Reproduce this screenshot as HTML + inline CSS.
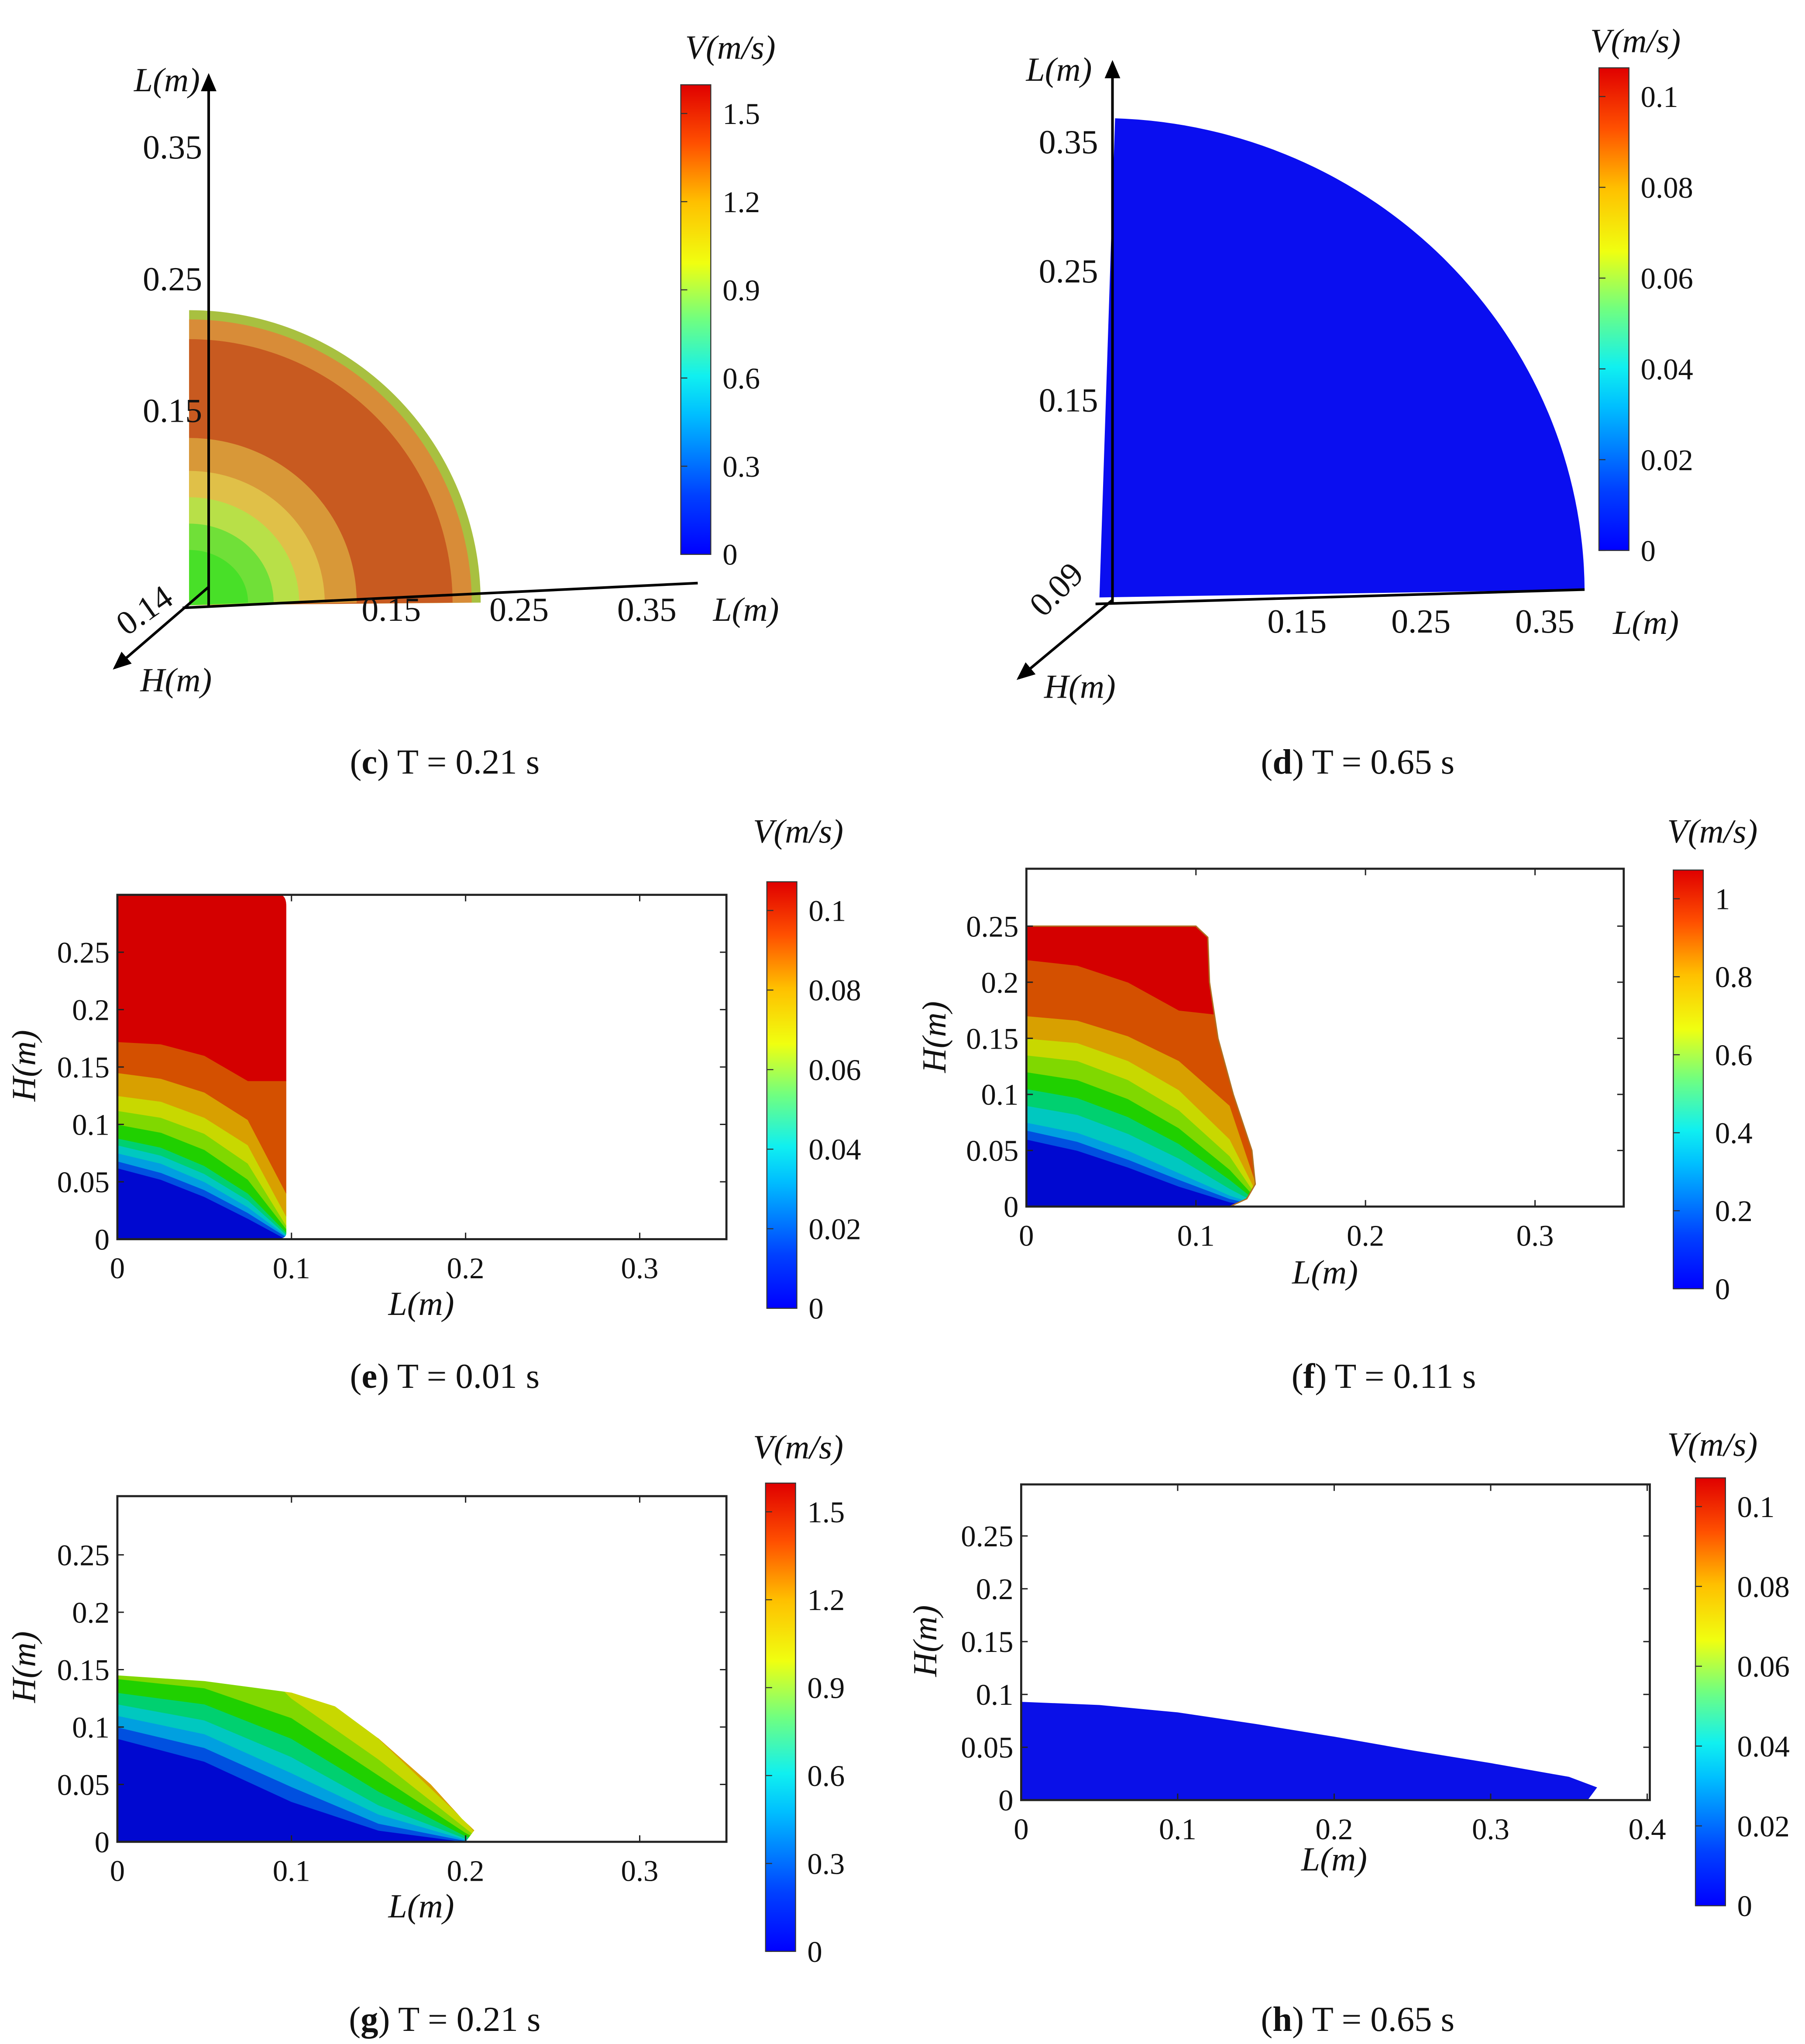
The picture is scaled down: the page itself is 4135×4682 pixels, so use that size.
<!DOCTYPE html>
<html><head><meta charset="utf-8"><style>
html,body{margin:0;padding:0;background:#fff}
svg{display:block}
text{font-family:"Liberation Serif",serif;fill:#111}
.t{font-size:23px}
.t3{font-size:26px}
.ax{font-size:26px;font-style:italic}
.cap{font-size:27px}
</style></head><body>
<svg id="fig" width="4135" height="4682" viewBox="0 0 1384 1567" preserveAspectRatio="none" xmlns="http://www.w3.org/2000/svg">
<defs>
<linearGradient id="jet" x1="0" y1="1" x2="0" y2="0">
<stop offset="0" stop-color="#0000ff"/><stop offset="0.125" stop-color="#0040ff"/><stop offset="0.3" stop-color="#00c0ff"/><stop offset="0.38" stop-color="#10f0f0"/><stop offset="0.5" stop-color="#70ff80"/><stop offset="0.62" stop-color="#f0ff10"/><stop offset="0.75" stop-color="#ffc000"/><stop offset="0.875" stop-color="#ff5000"/><stop offset="1" stop-color="#e00000"/>
</linearGradient>
<marker id="arr" markerWidth="8" markerHeight="8" refX="6" refY="4" orient="auto"><path d="M0,1 L7,4 L0,7 z" fill="#000"/></marker>
</defs>
<g id="root"></g>
</svg>
<script>
// ---------- data ----------
const cbTicksC = ['1.5','1.2','0.9','0.6','0.3','0'];
const cbTicksD = ['0.1','0.08','0.06','0.04','0.02','0'];
const cbTicksE = ['0.1','0.08','0.06','0.04','0.02','0'];
const cbTicksF = ['1','0.8','0.6','0.4','0.2','0'];
const cbTicksG = ['1.5','1.2','0.9','0.6','0.3','0'];
const cbTicksH = ['0.1','0.08','0.06','0.04','0.02','0'];
const xTicks2D = [0,0.1,0.2,0.3];
const xTicksH = [0,0.1,0.2,0.3,0.4];
const yTicks2D = [0,0.05,0.1,0.15,0.2,0.25];
// panel e
const eL = [0,0.025,0.05,0.075,0.097];
const eBounds = [
 [0.062,0.052,0.037,0.018,0],
 [0.068,0.058,0.043,0.023,0.002],
 [0.075,0.066,0.05,0.028,0.003],
 [0.082,0.073,0.057,0.034,0.004],
 [0.088,0.08,0.064,0.04,0.006],
 [0.1,0.093,0.078,0.052,0.009],
 [0.112,0.106,0.092,0.066,0.012],
 [0.125,0.12,0.106,0.082,0.02],
 [0.145,0.14,0.128,0.104,0.04],
 [0.172,0.17,0.16,0.138,0.138]];
const eColors = ['#0008d0','#0050e0','#00a0e0','#00c8c0','#00d070','#20d000','#80d800','#c8d800','#d8a000','#d45000','#d40000'];
const eTop = 0.3;
// panel f
const fL = [0,0.03,0.06,0.09,0.12,0.14];
const fBounds = [
 [0.06,0.05,0.035,0.018,0.004,0],
 [0.068,0.058,0.042,0.024,0.007,0],
 [0.075,0.066,0.05,0.03,0.01,0],
 [0.09,0.082,0.065,0.043,0.016,0],
 [0.105,0.097,0.08,0.056,0.024,0],
 [0.12,0.113,0.096,0.07,0.033,0],
 [0.135,0.13,0.113,0.086,0.045,0],
 [0.15,0.146,0.13,0.104,0.06,0],
 [0.17,0.166,0.152,0.13,0.09,0],
 [0.22,0.215,0.2,0.175,0.17,0.17]];
const fOutlineL = [0,0.1,0.107,0.108,0.113,0.122,0.133,0.135,0.13,0.12,0];
const fOutlineH = [0.25,0.25,0.24,0.2,0.15,0.1,0.05,0.02,0.007,0,0];
// panel g
const gL = [0,0.05,0.1,0.15,0.2,0.21];
const gBounds = [
 [0.09,0.07,0.035,0.01,0,0],
 [0.1,0.082,0.048,0.016,0.001,0],
 [0.11,0.094,0.06,0.024,0.002,0],
 [0.12,0.106,0.074,0.032,0.003,0],
 [0.13,0.12,0.09,0.044,0.005,0],
 [0.142,0.134,0.108,0.058,0.008,0],
 [0.2,0.2,0.125,0.072,0.012,0],
 [0.2,0.2,0.2,0.09,0.018,0],
 [0.2,0.2,0.2,0.2,0.025,0]];
const gColors = ['#0008d0','#0050e0','#00a0e0','#00c8c0','#00d070','#20d000','#80d800','#c8d800','#d8a000','#d06000'];
const gOutlineL = [0,0.05,0.1,0.125,0.15,0.18,0.198,0.205,0.2,0];
const gOutlineH = [0.145,0.14,0.13,0.118,0.09,0.05,0.02,0.01,0,0];
// panel h
const hOutlineL = [0,0.05,0.1,0.15,0.2,0.25,0.3,0.35,0.368,0.362,0];
const hOutlineH = [0.093,0.09,0.083,0.072,0.06,0.047,0.035,0.022,0.012,0,0];
// 3D panel c rings (radius m, color)
const cRadii = [0.222,0.215,0.2,0.125,0.1,0.08,0.06,0.04];
const cColors = ['#a8c040','#d88c38','#c85a20','#d89838','#e0c048','#b8e048','#70e038','#48e028'];
const dRadius = 0.368;

// ---------- helpers ----------
const NS='http://www.w3.org/2000/svg';
const root=document.getElementById('root');
function el(tag,attrs,parent,txt){const e=document.createElementNS(NS,tag);for(const k in attrs)e.setAttribute(k,attrs[k]);if(txt!==undefined)e.textContent=txt;(parent||root).appendChild(e);return e;}
function lin(d0,d1,p0,p1){return v=>p0+(v-d0)*(p1-p0)/(d1-d0);}

function colorbar(x,y0,y1,ticks,title,tx,ty,id){
  const r=el('rect',{x:x,y:y0,width:23,height:y1-y0,fill:'url(#jet)',stroke:'#333','stroke-width':0.8});
  
  
  const top=y0+22;
  const step=(y1-top)/(ticks.length-1);
  ticks.forEach((t,i)=>{
    const yv=top+i*step;
    el('line',{x1:x,x2:x+5,y1:yv,y2:yv,stroke:'#333','stroke-width':0.8});
    const tt=el('text',{x:x+32,y:yv+8,class:'t'},null,t);
    
    
  });
  const ti=el('text',{x:tx,y:ty,class:'ax','text-anchor':'middle'},null,'V(m/s)');
  
  
}
function caption(cx,cy,letter,txt,id){
  const c=el('text',{x:cx,y:cy,class:'cap','text-anchor':'middle'});
  
  
  el('tspan',{},c,'(');el('tspan',{'font-weight':'bold'},c,letter);el('tspan',{},c,')  '+txt);
}
function axes2D(bx0,bx1,by0,by1,xs,ys,xt,id,xlx,xly,ylx,yly){
  const g=el('g',{});
  
  
  el('rect',{x:bx0,y:by0,width:bx1-bx0,height:by1-by0,fill:'none',stroke:'#222','stroke-width':1.6},g);
  xt.forEach(v=>{const X=xs(v);el('line',{x1:X,x2:X,y1:by1,y2:by1-5,stroke:'#222'},g);el('line',{x1:X,x2:X,y1:by0,y2:by0+5,stroke:'#222'},g);
    const t=el('text',{x:X,y:by1+30,class:'t','text-anchor':'middle'},g,String(v));
    
    });
  yTicks2D.forEach(v=>{const Y=ys(v);el('line',{x1:bx0,x2:bx0+5,y1:Y,y2:Y,stroke:'#222'},g);el('line',{x1:bx1,x2:bx1-5,y1:Y,y2:Y,stroke:'#222'},g);
    const t=el('text',{x:bx0-6,y:Y+8,class:'t','text-anchor':'end'},g,String(v));
    
    });
  const xl=el('text',{x:xlx,y:xly,class:'ax','text-anchor':'middle'},g,'L(m)');
  
  
  const yl=el('text',{x:ylx,y:yly,class:'ax','text-anchor':'middle',transform:'rotate(-90 '+ylx+' '+yly+')'},g,'H(m)');
  
  
  return g;
}
function bands(Ls,bounds,colors,xs,ys,bottom,top,clipId,id){
  const g=el('g',clipId?{'clip-path':'url(#'+clipId+')'}:{});
  
  
  const lower=[Ls.map(()=>bottom)].concat(bounds);
  const upper=bounds.concat([Ls.map(()=>top)]);
  for(let i=0;i<lower.length;i++){
    let pts=Ls.map((L,j)=>xs(L)+','+ys(lower[i][j]));
    pts=pts.concat(Ls.slice().reverse().map((L,jj)=>{const j=Ls.length-1-jj;return xs(L)+','+ys(upper[i][j]);}));
    const p=el('polygon',{points:pts.join(' '),fill:colors[i],stroke:colors[i],'stroke-width':0.5},g);
    
    
  }
}
function outlinePath(Ls,Hs,xs,ys){return 'M'+Ls.map((L,i)=>xs(L)+','+ys(Hs[i])).join(' L')+' Z';}

// ---------- panel c (3D) ----------
(function(){
  const cx=lin(0,0.1,153,251), cy=lin(0,0.1,466,365);
  const g=el('g',{});
  
  
  cRadii.forEach((r,i)=>{
    const rx=cx(r)-cx(0)+6, ry=cy(0)-cy(r);
    const p=el('path',{d:`M145,464 L${145+rx},462 A${rx},${ry} 0 0 0 145,${462-ry} Z`,fill:cColors[i]},g);
    
    
  });
  el('line',{x1:160,y1:465,x2:160,y2:58,stroke:'#000','stroke-width':2,'marker-end':'url(#arr)'},g);
  el('line',{x1:140,y1:466,x2:535,y2:447,stroke:'#000','stroke-width':2},g);
  el('line',{x1:160,y1:450,x2:88,y2:512,stroke:'#000','stroke-width':2,'marker-end':'url(#arr)'},g);
  [0.15,0.25,0.35].forEach(v=>{const t=el('text',{x:cx(v),y:476,class:'t3','text-anchor':'middle'},g,String(v));
    const t2=el('text',{x:155,y:cy(v)+9,class:'t3','text-anchor':'end'},g,String(v));});
  const a=el('text',{x:97,y:488,class:'t3',transform:'rotate(-35 97 488)'},g,'0.14');
  el('text',{x:128,y:70,class:'ax','text-anchor':'middle'},g,'L(m)');
  el('text',{x:572,y:476,class:'ax','text-anchor':'middle'},g,'L(m)');
  el('text',{x:135,y:530,class:'ax','text-anchor':'middle'},g,'H(m)');
})();
colorbar(522,65,425,cbTicksC,'',560,45,'c');
caption(341,593,'c','T = 0.21 s','c');

// ---------- panel d (3D) ----------
(function(){
  const cx=lin(0,0.1,852,947), cy=lin(0,0.1,455,356);
  const g=el('g',{});
  
  
  const rx=1215-843, ry=455-cy(dRadius);
  const p=el('path',{d:`M843,458 L${843+rx},452 A${rx},${ry} 0 0 0 855,${455-ry} Z`,fill:'#0a0ef0'},g);
  
  
  el('line',{x1:853,y1:462,x2:853,y2:48,stroke:'#000','stroke-width':2,'marker-end':'url(#arr)'},g);
  el('line',{x1:840,y1:463,x2:1215,y2:452,stroke:'#000','stroke-width':2},g);
  el('line',{x1:853,y1:460,x2:781,y2:520,stroke:'#000','stroke-width':2,'marker-end':'url(#arr)'},g);
  [0.15,0.25,0.35].forEach(v=>{const t=el('text',{x:cx(v),y:485,class:'t3','text-anchor':'middle'},g,String(v));
    const t2=el('text',{x:842,y:cy(v)+9,class:'t3','text-anchor':'end'},g,String(v));});
  const a=el('text',{x:800,y:474,class:'t3',transform:'rotate(-45 800 474)'},g,'0.09');
  el('text',{x:812,y:62,class:'ax','text-anchor':'middle'},g,'L(m)');
  el('text',{x:1262,y:486,class:'ax','text-anchor':'middle'},g,'L(m)');
  el('text',{x:828,y:535,class:'ax','text-anchor':'middle'},g,'H(m)');
})();
colorbar(1226,52,422,cbTicksD,'',1254,40,'d');
caption(1041,593,'d','T = 0.65 s','d');

// ---------- panel e ----------
(function(){
  const xs=lin(0,0.1,90,223.5), ys=lin(0,0.05,950,906);
  el('clipPath',{id:'clipE'}).appendChild((()=>{const p=document.createElementNS(NS,'path');p.setAttribute('d',`M90,950 L90,${ys(eTop)} L${xs(0.093)},${ys(eTop)} Q${xs(0.097)},${ys(eTop)} ${xs(0.097)},${ys(0.29)} L${xs(0.097)},${ys(0.005)} Q${xs(0.097)},950 ${xs(0.09)},950 Z`);return p;})());
  bands(eL,eBounds,eColors,xs,ys,0,eTop,'clipE','e');
  axes2D(90,557,686,950,xs,ys,xTicks2D,'e',323,1008,27,817);
})();
colorbar(588,676,1003,cbTicksE,'',612,646,'e');
caption(341,1064,'e','T = 0.01 s','e');

// ---------- panel f ----------
(function(){
  const xs=lin(0,0.1,787,917), ys=lin(0,0.05,925,882);
  const cp=el('clipPath',{id:'clipF'});
  el('path',{d:outlinePath(fOutlineL,fOutlineH,xs,ys)},cp);
  bands(fL,fBounds,eColors,xs,ys,0,0.25,'clipF','f');
  el('path',{d:outlinePath(fOutlineL,fOutlineH,xs,ys),fill:'none',stroke:'#b07020','stroke-width':1});
  axes2D(787,1245,666,925,xs,ys,xTicks2D,'f',1016,984,725,795);
})();
colorbar(1283,667,988,cbTicksF,'',1313,646,'f');
caption(1061,1064,'f','T = 0.11 s','f');

// ---------- panel g ----------
(function(){
  const xs=lin(0,0.1,90,223.5), ys=lin(0,0.05,1412,1368);
  const cp=el('clipPath',{id:'clipG'});
  el('path',{d:outlinePath(gOutlineL,gOutlineH,xs,ys)},cp);
  bands(gL,gBounds,gColors,xs,ys,0,0.2,'clipG','g');
  axes2D(90,557,1147,1412,xs,ys,xTicks2D,'g',323,1470,27,1278);
})();
colorbar(587,1137,1496,cbTicksG,'',612,1118,'g');
caption(341,1557,'g','T = 0.21 s','g');

// ---------- panel h ----------
(function(){
  const xs=lin(0,0.1,783,903), ys=lin(0,0.05,1380,1339.5);
  const p=el('path',{d:outlinePath(hOutlineL,hOutlineH,xs,ys),fill:'#0a10e8'});
  
  
  axes2D(783,1265,1138,1380,xs,ys,xTicksH,'h',1023,1434,718,1258);
})();
colorbar(1300,1133,1461,cbTicksH,'',1313,1116,'h');
caption(1041,1557,'h','T = 0.65 s','h');
</script>
</body></html>
